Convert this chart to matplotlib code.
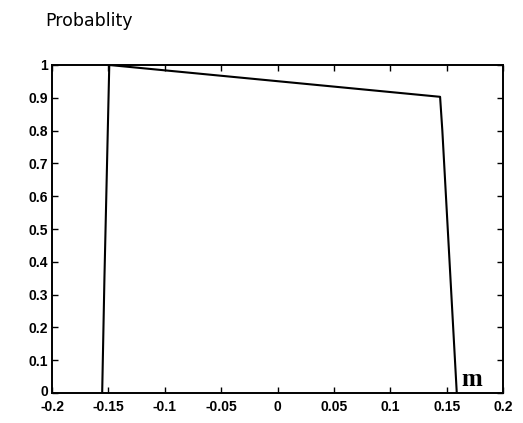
import matplotlib
matplotlib.use("Agg")
import matplotlib.pyplot as plt
import matplotlib.transforms as mtransforms
import numpy as np

# curve
m_vals = [-0.1555, -0.1535, -0.1492, 0.1442, 0.1462, 0.1590]
prob = [0.0, 0.35, 1.0, 0.903, 0.80, 0.0]

xticks = [-0.2, -0.15, -0.1, -0.05, 0, 0.05, 0.1, 0.15, 0.2]
xlabels = ["-0.2", "-0.15", "-0.1", "-0.05", "0", "0.05", "0.1", "0.15", "0.2"]
yticks = [0, 0.1, 0.2, 0.3, 0.4, 0.5, 0.6, 0.7, 0.8, 0.9, 1]
ylabels = ["0", "0.1", "0.2", "0.3", "0.4", "0.5", "0.6", "0.7", "0.8", "0.9", "1"]

fig = plt.figure(figsize=(5.23, 4.23), dpi=100)
ax = fig.add_axes([52 / 523, 30 / 423, 451 / 523, 328 / 423])

ax.plot(m_vals, prob, color="black", lw=1.5)
ax.set_xlim(-0.2, 0.2)
ax.set_ylim(0, 1)
ax.set_xticks(xticks)
ax.set_xticklabels(xlabels)
ax.set_yticks(yticks)
ax.set_yticklabels(ylabels)
ax.tick_params(direction="in", top=True, right=True, length=4, width=1,
               labelsize=10, pad=3)
ax.tick_params(axis="x", pad=5)
for lab in ax.get_xticklabels() + ax.get_yticklabels():
    lab.set_family("Liberation Sans")
    lab.set_weight("bold")
for s in ax.spines.values():
    s.set_linewidth(1.4)

# lift the "0" on the y axis a little so it clears "-0.2"
zero = ax.get_yticklabels()[0]
zero.set_transform(zero.get_transform() +
                   mtransforms.ScaledTranslation(0, 3 / 100, fig.dpi_scale_trans))

fig.text(45 / 523, 1 - 21 / 423, "Probablity", fontsize=12.5, family="DejaVu Sans",
         color="black", va="center", ha="left")
ax.text(0.1635, 0.02, "m", fontsize=18, family="Liberation Serif",
        weight="bold", va="baseline", ha="left")

fig.savefig("out.png", dpi=100)
